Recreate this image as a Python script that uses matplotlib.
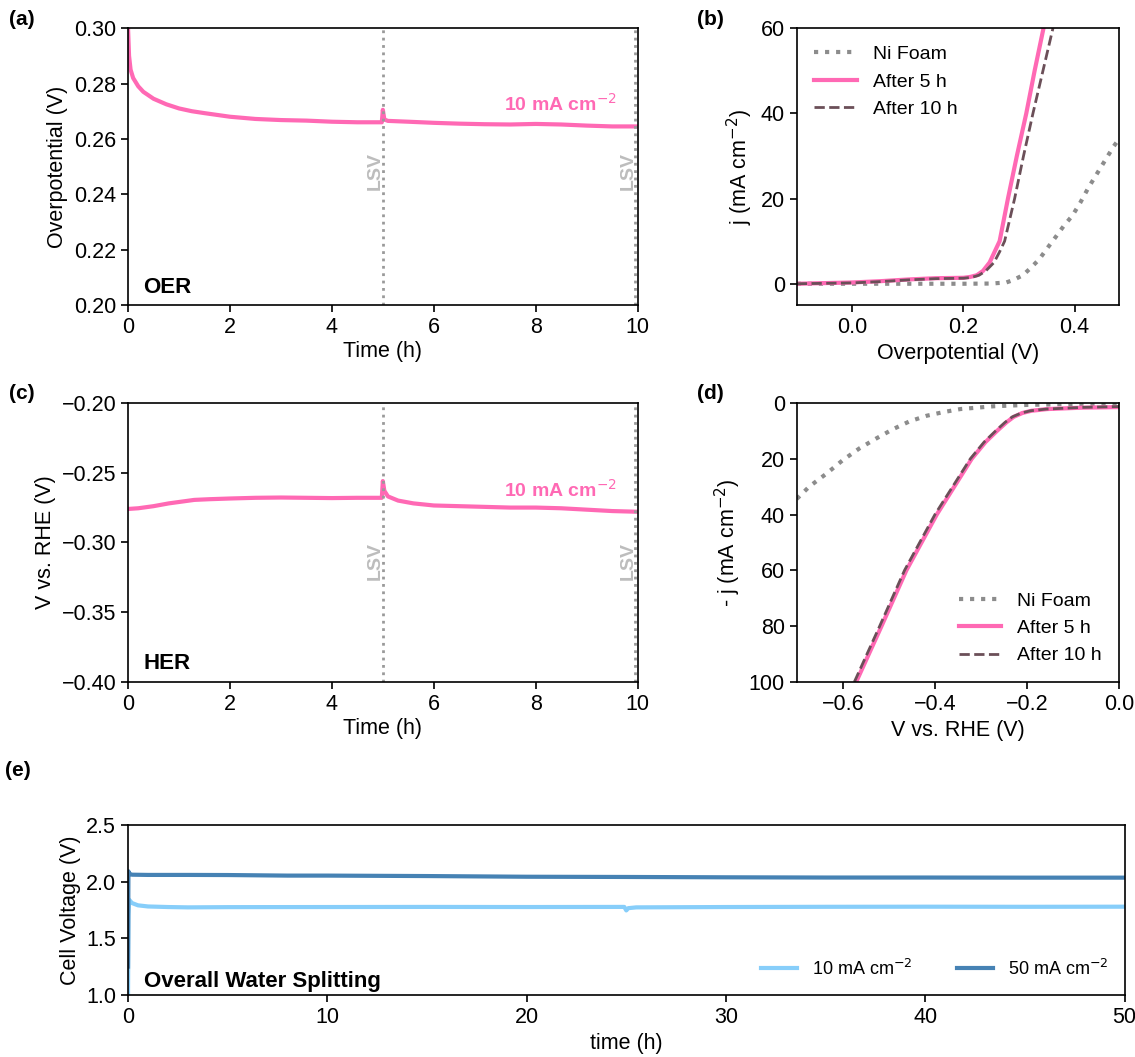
import matplotlib.pyplot as plt

plt.rcParams['font.family'] = ['Liberation Sans', 'DejaVu Sans']
plt.rcParams['axes.linewidth'] = 1.2
plt.rcParams['xtick.major.width'] = 1.2
plt.rcParams['ytick.major.width'] = 1.2

PINK = '#ff69b4'
MAUVE = '#6b4f58'
GRAY = '#8c8c8c'

# (a) OER chronopotentiometry
oer_t = [0, 0.02, 0.05, 0.1, 0.2, 0.3, 0.5, 0.75, 1.0, 1.25, 1.5, 2.0, 2.5, 3.0, 3.5, 4.0,
         4.5, 4.98, 5.0, 5.03, 5.1, 5.5, 6.0, 6.5, 7.0, 7.5, 8.0, 8.5, 9.0, 9.5, 10.0]
oer_v = [0.300, 0.290, 0.285, 0.282, 0.279, 0.277, 0.2745, 0.2725, 0.2710, 0.2700, 0.2693,
         0.2680, 0.2672, 0.2668, 0.2666, 0.2662, 0.2660, 0.2660, 0.2705, 0.2670, 0.2665,
         0.2662, 0.2658, 0.2655, 0.2653, 0.2652, 0.2654, 0.2652, 0.2648, 0.2645, 0.2645]

# (b) OER LSV
b_ni_x = [-0.1, 0.0, 0.1, 0.2, 0.25, 0.277, 0.29, 0.307, 0.32, 0.336, 0.35, 0.366, 0.38,
          0.396, 0.41, 0.425, 0.44, 0.455, 0.47, 0.48]
b_ni_y = [0, 0, 0, 0, 0.05, 0.3, 0.9, 2.0, 3.6, 5.7, 8.2, 11, 13.5, 16, 19, 22.6, 25.8,
          29, 32.2, 34]
b_5h_x = [-0.1, 0.0, 0.05, 0.1, 0.15, 0.2, 0.212, 0.224, 0.235, 0.247, 0.256, 0.265, 0.28,
          0.296, 0.313, 0.328, 0.344]
b_5h_y = [0, 0.3, 0.6, 1.0, 1.3, 1.4, 1.6, 2.0, 3.0, 5, 7.5, 10, 20, 30, 40, 50, 60]
b_10h_x = [-0.1, 0.0, 0.05, 0.1, 0.15, 0.2, 0.215, 0.228, 0.24, 0.255, 0.265, 0.274, 0.292,
           0.308, 0.325, 0.343, 0.361]
b_10h_y = [0, 0.2, 0.5, 0.9, 1.2, 1.3, 1.5, 2.0, 3.0, 5, 7.5, 10, 20, 30, 40, 50, 60]

# (c) HER chronopotentiometry
her_t = [0, 0.2, 0.5, 0.8, 1.0, 1.3, 1.6, 2.0, 2.5, 3.0, 3.5, 4.0, 4.5, 4.98, 5.0, 5.03,
         5.1, 5.3, 5.6, 6.0, 6.5, 7.0, 7.5, 8.0, 8.5, 9.0, 9.5, 10.0]
her_v = [-0.276, -0.2755, -0.274, -0.272, -0.271, -0.2695, -0.269, -0.2685, -0.268,
         -0.2678, -0.268, -0.2682, -0.268, -0.268, -0.256, -0.263, -0.267, -0.270, -0.272,
         -0.2735, -0.274, -0.2745, -0.275, -0.275, -0.2755, -0.2765, -0.2775, -0.278]

# (d) HER LSV
d_ni_x = [-0.7, -0.673, -0.636, -0.6, -0.564, -0.527, -0.491, -0.455, -0.418, -0.382,
          -0.345, -0.273, -0.2, -0.1, 0.0]
d_ni_y = [34.4, 30, 25.4, 20.5, 16.3, 12.7, 9.4, 6.6, 4.6, 3.3, 2.2, 1.2, 0.7, 0.4, 0.3]
d_5h_x = [-0.571, -0.516, -0.462, -0.396, -0.32, -0.29, -0.265, -0.245, -0.229, -0.21,
          -0.19, -0.156, -0.08, 0.0]
d_5h_y = [100, 80, 60, 40, 20, 14, 10, 7, 5, 3.6, 2.8, 2.2, 1.7, 1.5]
d_10h_x = [-0.575, -0.52, -0.466, -0.40, -0.323, -0.293, -0.268, -0.248, -0.232, -0.212,
           -0.192, -0.158, -0.08, 0.0]
d_10h_y = [100, 80, 60, 40, 20, 14, 10, 7, 5, 3.6, 2.8, 2.2, 1.6, 1.3]

# (e) overall water splitting
e_t10 = [0, 0.02, 0.05, 0.2, 0.5, 1, 2, 3, 5, 10, 15, 20, 24.9, 25.0, 25.1, 25.5, 30, 35, 40, 45, 50]
e_v10 = [1.0, 1.70, 1.84, 1.81, 1.79, 1.78, 1.775, 1.772, 1.774, 1.775, 1.776, 1.775, 1.776,
         1.745, 1.765, 1.772, 1.775, 1.777, 1.778, 1.777, 1.778]
e_t50 = [0, 0.02, 0.05, 0.2, 1, 3, 5, 8, 10, 15, 20, 25, 30, 35, 40, 45, 50]
e_v50 = [1.25, 2.09, 2.07, 2.06, 2.058, 2.058, 2.057, 2.052, 2.052, 2.048, 2.042, 2.04,
         2.037, 2.035, 2.035, 2.034, 2.034]

fig = plt.figure(figsize=(11.35, 10.57), dpi=100)
ax_a = fig.add_axes([0.1128, 0.7114, 0.449, 0.262])
ax_b = fig.add_axes([0.702, 0.7114, 0.284, 0.262])
ax_c = fig.add_axes([0.1128, 0.3548, 0.449, 0.264])
ax_d = fig.add_axes([0.702, 0.3548, 0.284, 0.264])
ax_e = fig.add_axes([0.1128, 0.0587, 0.878, 0.161])

fs = 15.5
for ax in [ax_a, ax_b, ax_c, ax_d, ax_e]:
    ax.tick_params(labelsize=fs, length=5)


def stability(ax, t, v, ylim, yticks, ylabel, tag, lsv_y, label_y):
    ax.plot(t, v, color=PINK, lw=3)
    for x in [5, 9.95]:
        ax.axvline(x, color='#9a9a9a', ls=':', lw=2)
        ax.text(x - 0.14, lsv_y, 'LSV', rotation=90, color='#bdbdbd', fontsize=14,
                fontweight='bold', ha='center', va='center')
    ax.text(9.6, label_y, '10 mA cm$^{-2}$', color=PINK, fontsize=14,
            fontweight='bold', ha='right', va='center')
    ax.text(0.3, ylim[0] + 0.065 * (ylim[1] - ylim[0]), tag, fontsize=16, fontweight='bold',
            va='center')
    ax.set_xlim(0, 10)
    ax.set_ylim(*ylim)
    ax.set_yticks(yticks)
    ax.set_xlabel('Time (h)', fontsize=fs, labelpad=2)
    ax.set_ylabel(ylabel, fontsize=fs)


stability(ax_a, oer_t, oer_v, (0.20, 0.30), [0.20, 0.22, 0.24, 0.26, 0.28, 0.30],
          'Overpotential (V)', 'OER', 0.2485, 0.2725)
ax_a.yaxis.set_major_formatter(plt.FormatStrFormatter('%.2f'))
stability(ax_c, her_t, her_v, (-0.40, -0.20), [-0.40, -0.35, -0.30, -0.25, -0.20],
          'V vs. RHE (V)', 'HER', -0.313, -0.262)
ax_c.yaxis.set_major_formatter(plt.FuncFormatter(lambda v, p: '\u2212%.2f' % abs(v)))

# (b)
ax_b.plot(b_ni_x, b_ni_y, color=GRAY, ls=':', lw=3, label='Ni Foam')
ax_b.plot(b_5h_x, b_5h_y, color=PINK, lw=3, label='After 5 h')
ax_b.plot(b_10h_x, b_10h_y, color=MAUVE, ls='--', lw=2, label='After 10 h')
ax_b.set_xlim(-0.1, 0.48)
ax_b.set_ylim(-5, 60)
ax_b.set_xticks([0.0, 0.2, 0.4])
ax_b.set_yticks([0, 20, 40, 60])
ax_b.set_xlabel('Overpotential (V)', fontsize=fs)
ax_b.set_ylabel('j (mA cm$^{-2}$)', fontsize=fs)
ax_b.legend(loc='upper left', frameon=False, fontsize=14, handlelength=2.2)

# (d)
ax_d.plot(d_ni_x, d_ni_y, color=GRAY, ls=':', lw=3, label='Ni Foam')
ax_d.plot(d_5h_x, d_5h_y, color=PINK, lw=3, label='After 5 h')
ax_d.plot(d_10h_x, d_10h_y, color=MAUVE, ls='--', lw=2, label='After 10 h')
ax_d.set_xlim(-0.7, 0.0)
ax_d.set_ylim(100, 0)
ax_d.set_xticks([-0.6, -0.4, -0.2, 0.0])
ax_d.set_yticks([0, 20, 40, 60, 80, 100])
ax_d.set_xlabel('V vs. RHE (V)', fontsize=fs)
ax_d.set_ylabel('- j (mA cm$^{-2}$)', fontsize=fs)
ax_d.legend(loc='lower right', frameon=False, fontsize=14, handlelength=2.2)

# (e)
ax_e.plot(e_t10, e_v10, color='#87cefa', lw=3, label='10 mA cm$^{-2}$')
ax_e.plot(e_t50, e_v50, color='#4682b4', lw=3, label='50 mA cm$^{-2}$')
ax_e.set_xlim(0, 50)
ax_e.set_ylim(1.0, 2.5)
ax_e.set_yticks([1.0, 1.5, 2.0, 2.5])
ax_e.set_xlabel('time (h)', fontsize=fs)
ax_e.set_ylabel('Cell Voltage (V)', fontsize=fs)
ax_e.text(0.8, 1.12, 'Overall Water Splitting', fontsize=16, fontweight='bold', va='center')
ax_e.legend(loc='lower right', ncol=2, frameon=False, fontsize=13, handlelength=2,
            columnspacing=2.5)

for lbl, x, y in [('(a)', 0.008, 0.982), ('(b)', 0.614, 0.982), ('(c)', 0.008, 0.628),
                  ('(d)', 0.614, 0.628), ('(e)', 0.004, 0.271)]:
    fig.text(x, y, lbl, fontsize=15, fontweight='bold', va='center')

fig.savefig('out.png', dpi=100)
